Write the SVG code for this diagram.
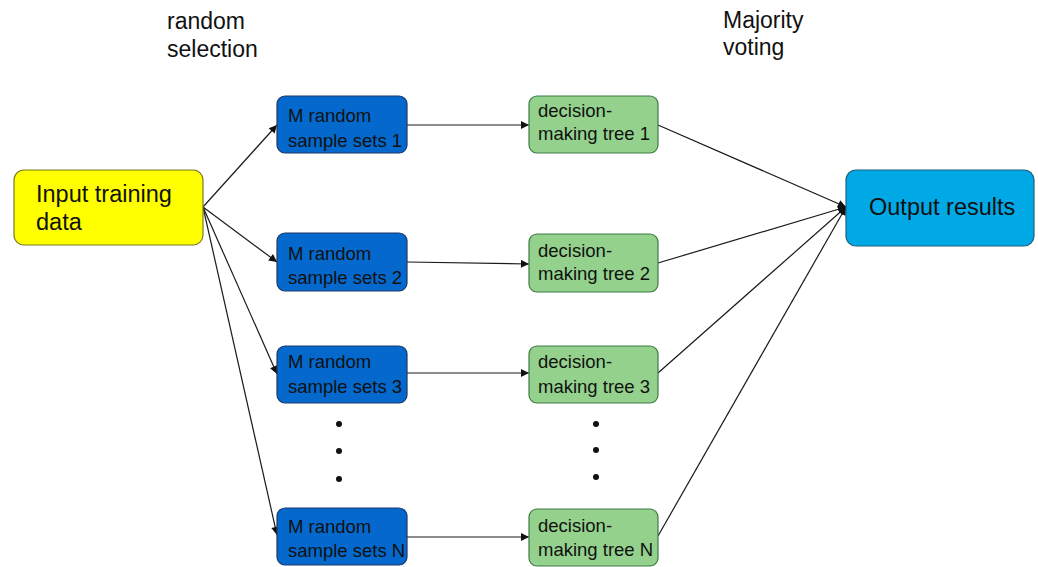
<svg xmlns="http://www.w3.org/2000/svg" width="1038" height="567" viewBox="0 0 1038 567">
  <defs>
    <marker id="arr" viewBox="0 0 10 10" refX="10" refY="5" markerWidth="9" markerHeight="8" markerUnits="userSpaceOnUse" orient="auto">
      <path d="M0,0 L10,5 L0,10 z" fill="#111"/>
    </marker>
    <style>
      text { font-family: "Liberation Sans", Arial, sans-serif; fill: #111; }
      .lbl { font-size: 23px; }
      .big { font-size: 23.5px; }
      .sm { font-size: 18.5px; }
      .in { fill: #FFFF00; stroke: #7a7a2a; stroke-width: 1.2; }
      .bl { fill: #0468CC; stroke: #1d3a6a; stroke-width: 1.2; }
      .gr { fill: #93D18C; stroke: #3f7a45; stroke-width: 1.2; }
      .out { fill: #00A9E6; stroke: #1f5f80; stroke-width: 1.2; }
      .dot { fill: #111; }
      #connectors line { stroke: #1a1a1a; stroke-width: 1.2; marker-end: url(#arr); }
    </style>
  </defs>

  <g id="labels">
    <text class="lbl" x="167" y="29">random</text>
    <text class="lbl" x="167" y="57">selection</text>
    <text class="lbl" x="723" y="28">Majority</text>
    <text class="lbl" x="723" y="55">voting</text>
  </g>

  <g id="connectors">
    <line x1="203" y1="207" x2="277" y2="125"/>
    <line x1="203" y1="207" x2="277" y2="262"/>
    <line x1="203" y1="207" x2="277" y2="374"/>
    <line x1="203" y1="207" x2="277" y2="535"/>
    <line x1="407" y1="125" x2="529" y2="125"/>
    <line x1="407" y1="262" x2="529" y2="264"/>
    <line x1="407" y1="373" x2="529" y2="373"/>
    <line x1="407" y1="537" x2="529" y2="537"/>
    <line x1="658" y1="125" x2="846" y2="207"/>
    <line x1="658" y1="263" x2="846" y2="207"/>
    <line x1="658" y1="373" x2="846" y2="207"/>
    <line x1="658" y1="536" x2="846" y2="207"/>
  </g>

  <g id="input">
    <rect class="in" x="14" y="170" width="189" height="75" rx="10"/>
    <text class="big" x="36" y="202">Input training</text>
    <text class="big" x="36" y="230">data</text>
  </g>

  <g id="sample1">
    <rect class="bl" x="277" y="96" width="130" height="57" rx="8"/>
    <text class="sm" x="288" y="122">M random</text>
    <text class="sm" x="288" y="147">sample sets 1</text>
  </g>
  <g id="sample2">
    <rect class="bl" x="277" y="233" width="130" height="58" rx="8"/>
    <text class="sm" x="288" y="260">M random</text>
    <text class="sm" x="288" y="284">sample sets 2</text>
  </g>
  <g id="sample3">
    <rect class="bl" x="277" y="346" width="130" height="57" rx="8"/>
    <text class="sm" x="288" y="368">M random</text>
    <text class="sm" x="288" y="393">sample sets 3</text>
  </g>
  <g id="sampleN">
    <rect class="bl" x="277" y="508" width="130" height="57" rx="8"/>
    <text class="sm" x="288" y="533">M random</text>
    <text class="sm" x="288" y="557">sample sets N</text>
  </g>

  <g id="tree1">
    <rect class="gr" x="529" y="96" width="129" height="57" rx="8"/>
    <text class="sm" x="538" y="117">decision-</text>
    <text class="sm" x="538" y="140">making tree 1</text>
  </g>
  <g id="tree2">
    <rect class="gr" x="529" y="234" width="129" height="58" rx="8"/>
    <text class="sm" x="538" y="257">decision-</text>
    <text class="sm" x="538" y="280">making tree 2</text>
  </g>
  <g id="tree3">
    <rect class="gr" x="529" y="346" width="129" height="57" rx="8"/>
    <text class="sm" x="538" y="368">decision-</text>
    <text class="sm" x="538" y="393">making tree 3</text>
  </g>
  <g id="treeN">
    <rect class="gr" x="529" y="509" width="129" height="57" rx="8"/>
    <text class="sm" x="538" y="532">decision-</text>
    <text class="sm" x="538" y="556">making tree N</text>
  </g>

  <g id="dots-samples">
    <circle class="dot" cx="339" cy="424" r="3"/>
    <circle class="dot" cx="339" cy="451" r="3"/>
    <circle class="dot" cx="339" cy="479" r="3"/>
  </g>
  <g id="dots-trees">
    <circle class="dot" cx="596" cy="424" r="3"/>
    <circle class="dot" cx="596" cy="450" r="3"/>
    <circle class="dot" cx="596" cy="477" r="3"/>
  </g>

  <g id="output">
    <rect class="out" x="846" y="170" width="188" height="76" rx="10"/>
    <text class="big" x="869" y="215">Output results</text>
  </g>
</svg>
